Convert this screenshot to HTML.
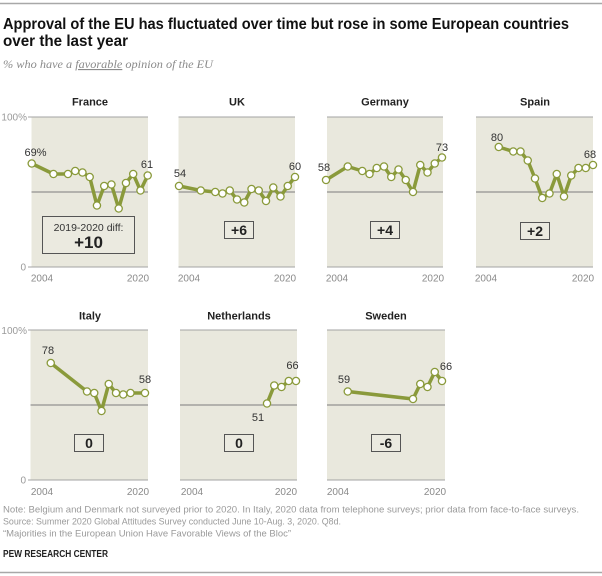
<!DOCTYPE html>
<html><head><meta charset="utf-8"><style>
html,body{margin:0;padding:0;background:#fff;}
svg{display:block;}
text{font-family:"Liberation Sans",Arial,sans-serif;}
.pt{fill:#fff;stroke:#8a9a3b;stroke-width:1.3;}
.ln{fill:none;stroke:#8a9a3b;stroke-width:3.5;stroke-linejoin:round;}
.bg{fill:#e9e8dd;}
.edge{stroke:#a3a3a3;stroke-width:1;}
.mid{stroke:#7d7d7d;stroke-width:1;}
.yr{font-size:10px;fill:#8a8a8a;}
.ax{font-size:10px;fill:#9a9a9a;}
.ttl{font-size:11px;font-weight:bold;fill:#222;}
.lab{font-size:11px;fill:#333;}
.box{fill:#ebeae0;stroke:#555;stroke-width:1;}
.dv{font-size:14px;font-weight:bold;fill:#222;}
.foot{font-size:9.5px;fill:#9a9a9a;}
</style></head><body>
<svg width="602" height="576" viewBox="0 0 602 576" xmlns="http://www.w3.org/2000/svg">
<rect width="602" height="576" fill="#fff"/>
<line x1="0" y1="3.5" x2="602" y2="3.5" stroke="#a8a8a8" stroke-width="1.5"/>
<line x1="0" y1="572.5" x2="602" y2="572.5" stroke="#a8a8a8" stroke-width="1.5"/>

<text x="3" y="29" font-size="16" font-weight="bold" fill="#111" textLength="566" lengthAdjust="spacingAndGlyphs">Approval of the EU has fluctuated over time but rose in some European countries</text>
<text x="3" y="46" font-size="16" font-weight="bold" fill="#111" textLength="125" lengthAdjust="spacingAndGlyphs">over the last year</text>
<text x="3" y="68" font-size="11.5" font-style="italic" fill="#8a8a8a" style="font-family:'Liberation Serif',serif" textLength="210" lengthAdjust="spacingAndGlyphs">% who have a <tspan text-decoration="underline">favorable</tspan> opinion of the EU</text>

<!-- Row 1 panels -->
<rect class="bg" x="31.5" y="117" width="116.5" height="150"/>
<rect class="bg" x="178.5" y="117" width="116.5" height="150"/>
<rect class="bg" x="327" y="117" width="116" height="150"/>
<rect class="bg" x="476" y="117" width="117" height="150"/>
<line class="edge" x1="28" y1="117" x2="148" y2="117"/>
<line class="edge" x1="28" y1="267" x2="148" y2="267"/>
<line class="mid" x1="31.5" y1="192" x2="148" y2="192"/>
<line class="edge" x1="178.5" y1="117" x2="295" y2="117"/>
<line class="edge" x1="178.5" y1="267" x2="295" y2="267"/>
<line class="mid" x1="178.5" y1="192" x2="295" y2="192"/>
<line class="edge" x1="327" y1="117" x2="443" y2="117"/>
<line class="edge" x1="327" y1="267" x2="443" y2="267"/>
<line class="mid" x1="327" y1="192" x2="443" y2="192"/>
<line class="edge" x1="476" y1="117" x2="593" y2="117"/>
<line class="edge" x1="476" y1="267" x2="593" y2="267"/>
<line class="mid" x1="476" y1="192" x2="593" y2="192"/>
<text class="ax" x="27" y="120.5" text-anchor="end">100%</text>
<text class="ax" x="26" y="270.5" text-anchor="end">0</text>

<text class="ttl" x="90" y="105.5" text-anchor="middle">France</text>
<text class="ttl" x="237" y="105.5" text-anchor="middle">UK</text>
<text class="ttl" x="385" y="105.5" text-anchor="middle">Germany</text>
<text class="ttl" x="535" y="105.5" text-anchor="middle">Spain</text>

<text class="yr" x="42" y="281.5" text-anchor="middle">2004</text>
<text class="yr" x="138" y="281.5" text-anchor="middle">2020</text>
<text class="yr" x="189" y="281.5" text-anchor="middle">2004</text>
<text class="yr" x="285" y="281.5" text-anchor="middle">2020</text>
<text class="yr" x="337" y="281.5" text-anchor="middle">2004</text>
<text class="yr" x="433" y="281.5" text-anchor="middle">2020</text>
<text class="yr" x="486" y="281.5" text-anchor="middle">2004</text>
<text class="yr" x="583" y="281.5" text-anchor="middle">2020</text>

<!-- France -->
<polyline class="ln" points="31.7,163.5 53.45,174 67.95,174 75.2,171 82.45,172.5 89.7,177 96.95,205.5 104.2,186 111.45,184.5 118.7,208.5 125.95,183 133.2,174 140.45,190.5 147.7,175.5"/>
<g class="pt">
<circle cx="31.7" cy="163.5" r="3.6"/><circle cx="53.45" cy="174" r="3.6"/><circle cx="67.95" cy="174" r="3.6"/><circle cx="75.2" cy="171" r="3.6"/><circle cx="82.45" cy="172.5" r="3.6"/><circle cx="89.7" cy="177" r="3.6"/><circle cx="96.95" cy="205.5" r="3.6"/><circle cx="104.2" cy="186" r="3.6"/><circle cx="111.45" cy="184.5" r="3.6"/><circle cx="118.7" cy="208.5" r="3.6"/><circle cx="125.95" cy="183" r="3.6"/><circle cx="133.2" cy="174" r="3.6"/><circle cx="140.45" cy="190.5" r="3.6"/><circle cx="147.7" cy="175.5" r="3.6"/>
</g>
<text class="lab" x="35.5" y="156" text-anchor="middle">69%</text>
<text class="lab" x="147" y="168" text-anchor="middle">61</text>
<rect class="box" x="42.5" y="216.5" width="92" height="37"/>
<text x="88.5" y="231" font-size="10.5" fill="#333" text-anchor="middle">2019-2020 diff:</text>
<text x="88.5" y="248" font-size="17" font-weight="bold" fill="#222" text-anchor="middle">+10</text>

<!-- UK -->
<polyline class="ln" points="179,186 200.75,190.5 215.25,192 222.5,193.5 229.75,190.5 237,199.5 244.25,202.5 251.5,189 258.75,190.5 266,201 273.25,187.5 280.5,196.5 287.75,186 295,177"/>
<g class="pt">
<circle cx="179" cy="186" r="3.6"/><circle cx="200.75" cy="190.5" r="3.6"/><circle cx="215.25" cy="192" r="3.6"/><circle cx="222.5" cy="193.5" r="3.6"/><circle cx="229.75" cy="190.5" r="3.6"/><circle cx="237" cy="199.5" r="3.6"/><circle cx="244.25" cy="202.5" r="3.6"/><circle cx="251.5" cy="189" r="3.6"/><circle cx="258.75" cy="190.5" r="3.6"/><circle cx="266" cy="201" r="3.6"/><circle cx="273.25" cy="187.5" r="3.6"/><circle cx="280.5" cy="196.5" r="3.6"/><circle cx="287.75" cy="186" r="3.6"/><circle cx="295" cy="177" r="3.6"/>
</g>
<text class="lab" x="180" y="177" text-anchor="middle">54</text>
<text class="lab" x="295" y="170" text-anchor="middle">60</text>
<rect class="box" x="224.5" y="221.5" width="29" height="17"/>
<text class="dv" x="239" y="235" text-anchor="middle">+6</text>

<!-- Germany -->
<polyline class="ln" points="326,180 347.75,166.5 362.25,171 369.5,174 376.75,168 384,166.5 391.25,177 398.5,169.5 405.75,180 413,192 420.25,165 427.5,172.5 434.75,163.5 442,157.5"/>
<g class="pt">
<circle cx="326" cy="180" r="3.6"/><circle cx="347.75" cy="166.5" r="3.6"/><circle cx="362.25" cy="171" r="3.6"/><circle cx="369.5" cy="174" r="3.6"/><circle cx="376.75" cy="168" r="3.6"/><circle cx="384" cy="166.5" r="3.6"/><circle cx="391.25" cy="177" r="3.6"/><circle cx="398.5" cy="169.5" r="3.6"/><circle cx="405.75" cy="180" r="3.6"/><circle cx="413" cy="192" r="3.6"/><circle cx="420.25" cy="165" r="3.6"/><circle cx="427.5" cy="172.5" r="3.6"/><circle cx="434.75" cy="163.5" r="3.6"/><circle cx="442" cy="157.5" r="3.6"/>
</g>
<text class="lab" x="324" y="171" text-anchor="middle">58</text>
<text class="lab" x="442" y="151" text-anchor="middle">73</text>
<rect class="box" x="370.5" y="221.5" width="29" height="17"/>
<text class="dv" x="385" y="235" text-anchor="middle">+4</text>

<!-- Spain -->
<polyline class="ln" points="498.75,147 513.25,151.5 520.5,151.5 527.75,160.5 535,178.5 542.25,198 549.5,193.5 556.75,174 564,196.5 571.25,175.5 578.5,168 585.75,168 593,165"/>
<g class="pt">
<circle cx="498.75" cy="147" r="3.6"/><circle cx="513.25" cy="151.5" r="3.6"/><circle cx="520.5" cy="151.5" r="3.6"/><circle cx="527.75" cy="160.5" r="3.6"/><circle cx="535" cy="178.5" r="3.6"/><circle cx="542.25" cy="198" r="3.6"/><circle cx="549.5" cy="193.5" r="3.6"/><circle cx="556.75" cy="174" r="3.6"/><circle cx="564" cy="196.5" r="3.6"/><circle cx="571.25" cy="175.5" r="3.6"/><circle cx="578.5" cy="168" r="3.6"/><circle cx="585.75" cy="168" r="3.6"/><circle cx="593" cy="165" r="3.6"/>
</g>
<text class="lab" x="497" y="141" text-anchor="middle">80</text>
<text class="lab" x="590" y="158" text-anchor="middle">68</text>
<rect class="box" x="520.5" y="222.5" width="29" height="17"/>
<text class="dv" x="535" y="236" text-anchor="middle">+2</text>

<!-- Row 2 panels -->
<rect class="bg" x="30.5" y="330" width="117.5" height="150"/>
<rect class="bg" x="180" y="330" width="117" height="150"/>
<rect class="bg" x="327" y="330" width="118" height="150"/>
<line class="edge" x1="28" y1="330" x2="148" y2="330"/>
<line class="edge" x1="28" y1="480" x2="148" y2="480"/>
<line class="mid" x1="30.5" y1="405" x2="148" y2="405"/>
<line class="edge" x1="180" y1="330" x2="297" y2="330"/>
<line class="edge" x1="180" y1="480" x2="297" y2="480"/>
<line class="mid" x1="180" y1="405" x2="297" y2="405"/>
<line class="edge" x1="327" y1="330" x2="445" y2="330"/>
<line class="edge" x1="327" y1="480" x2="445" y2="480"/>
<line class="mid" x1="327" y1="405" x2="445" y2="405"/>
<text class="ax" x="27" y="334" text-anchor="end">100%</text>
<text class="ax" x="26" y="483.5" text-anchor="end">0</text>

<text class="ttl" x="90" y="319.5" text-anchor="middle">Italy</text>
<text class="ttl" x="239" y="319.5" text-anchor="middle">Netherlands</text>
<text class="ttl" x="386" y="319.5" text-anchor="middle">Sweden</text>

<text class="yr" x="42" y="495" text-anchor="middle">2004</text>
<text class="yr" x="138" y="495" text-anchor="middle">2020</text>
<text class="yr" x="192" y="495" text-anchor="middle">2004</text>
<text class="yr" x="286" y="495" text-anchor="middle">2020</text>
<text class="yr" x="338" y="495" text-anchor="middle">2004</text>
<text class="yr" x="435" y="495" text-anchor="middle">2020</text>

<!-- Italy -->
<polyline class="ln" points="50.75,363 87,391.5 94.25,393 101.5,411 108.75,384 116,393 123.25,394.5 130.5,393 145,393"/>
<g class="pt">
<circle cx="50.75" cy="363" r="3.6"/><circle cx="87" cy="391.5" r="3.6"/><circle cx="94.25" cy="393" r="3.6"/><circle cx="101.5" cy="411" r="3.6"/><circle cx="108.75" cy="384" r="3.6"/><circle cx="116" cy="393" r="3.6"/><circle cx="123.25" cy="394.5" r="3.6"/><circle cx="130.5" cy="393" r="3.6"/><circle cx="145" cy="393" r="3.6"/>
</g>
<text class="lab" x="48" y="354" text-anchor="middle">78</text>
<text class="lab" x="145" y="383" text-anchor="middle">58</text>
<rect class="box" x="74.5" y="434.5" width="29" height="17"/>
<text class="dv" x="89" y="448" text-anchor="middle">0</text>

<!-- Netherlands -->
<polyline class="ln" points="267,403.5 274.25,385.5 281.5,387 288.75,381 296,381"/>
<g class="pt">
<circle cx="267" cy="403.5" r="3.6"/><circle cx="274.25" cy="385.5" r="3.6"/><circle cx="281.5" cy="387" r="3.6"/><circle cx="288.75" cy="381" r="3.6"/><circle cx="296" cy="381" r="3.6"/>
</g>
<text class="lab" x="292.5" y="369" text-anchor="middle">66</text>
<text class="lab" x="258" y="421" text-anchor="middle">51</text>
<rect class="box" x="224.5" y="434.5" width="29" height="17"/>
<text class="dv" x="239" y="448" text-anchor="middle">0</text>

<!-- Sweden -->
<polyline class="ln" points="347.75,391.5 413,399 420.25,384 427.5,387 434.75,372 442,381"/>
<g class="pt">
<circle cx="347.75" cy="391.5" r="3.6"/><circle cx="413" cy="399" r="3.6"/><circle cx="420.25" cy="384" r="3.6"/><circle cx="427.5" cy="387" r="3.6"/><circle cx="434.75" cy="372" r="3.6"/><circle cx="442" cy="381" r="3.6"/>
</g>
<text class="lab" x="344" y="383" text-anchor="middle">59</text>
<text class="lab" x="446" y="370" text-anchor="middle">66</text>
<rect class="box" x="371.5" y="434.5" width="29" height="17"/>
<text class="dv" x="386" y="448" text-anchor="middle">-6</text>

<!-- Footer -->
<text class="foot" x="3" y="512.5" textLength="576" lengthAdjust="spacingAndGlyphs">Note: Belgium and Denmark not surveyed prior to 2020. In Italy, 2020 data from telephone surveys; prior data from face-to-face surveys.</text>
<text class="foot" x="3" y="524.5" textLength="338" lengthAdjust="spacingAndGlyphs">Source: Summer 2020 Global Attitudes Survey conducted June 10-Aug. 3, 2020. Q8d.</text>
<text class="foot" x="3" y="536.5" textLength="288" lengthAdjust="spacingAndGlyphs">“Majorities in the European Union Have Favorable Views of the Bloc”</text>
<text x="3" y="557" font-size="10" font-weight="bold" fill="#222" textLength="105" lengthAdjust="spacingAndGlyphs">PEW RESEARCH CENTER</text>
</svg>
</body></html>
